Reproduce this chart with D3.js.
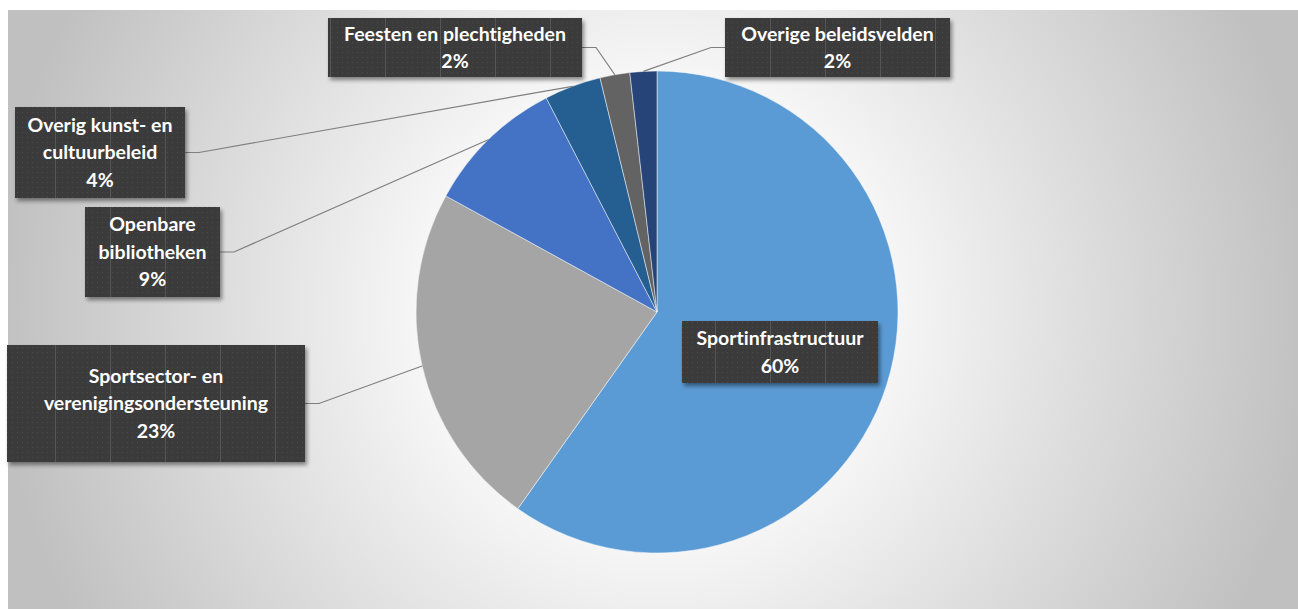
<!DOCTYPE html>
<html lang="nl">
<meta charset="utf-8">
<head>
  <title>Uitgaven per beleidsveld</title>
  <style>
    body { margin: 0; background: #fff; }
    .lbl { font-family: Lato, "Open Sans", sans-serif; font-weight: bold; font-size: 19.5px; fill: #fff;
           font-variant-ligatures: none; }
    .leader { fill: none; stroke: #7f7f7f; stroke-width: 1.2px; }
  </style>
</head>
<body>
<svg width="1298" height="609"></svg>
<script src="https://cdn.jsdelivr.net/npm/d3@7"></script>
<script>

// data
var categories = ["Sportinfrastructuur", "Sportsector- en verenigingsondersteuning", "Openbare bibliotheken",
                  "Overig kunst- en cultuurbeleid", "Feesten en plechtigheden", "Overige beleidsvelden"];
var shares = [59.8, 23.2, 9.4, 3.8, 2.0, 1.8];
// how each label is broken over lines
var labelLines = [
  ["Sportinfrastructuur"],
  ["Sportsector- en", "verenigingsondersteuning"],
  ["Openbare", "bibliotheken"],
  ["Overig kunst- en", "cultuurbeleid"],
  ["Feesten en plechtigheden"],
  ["Overige beleidsvelden"]
];

var colors = ["#5b9bd5", "#a5a5a5", "#4472c4", "#255e91", "#636363", "#264478"];

// label boxes: x, y, w, h, side the leader leaves from (null = inside slice)
var boxes = [
  {x: 682, y: 321, w: 196, h: 62, side: null},
  {x: 7, y: 345, w: 298, h: 117, side: "right"},
  {x: 85, y: 207, w: 135, h: 90, side: "right"},
  {x: 15, y: 107, w: 170, h: 91, side: "right"},
  {x: 328, y: 18, w: 254, h: 59, side: "right"},
  {x: 725, y: 18, w: 225, h: 59, side: "left"}
];

var svg = d3.select("svg"),
    cx = 657, cy = 312, radius = 241;

var defs = svg.append("defs");

var bg = defs.append("radialGradient")
    .attr("id", "bg")
    .attr("gradientUnits", "userSpaceOnUse")
    .attr("cx", 655).attr("cy", 310).attr("r", 660);
bg.append("stop").attr("offset", 0).attr("stop-color", "#ffffff");
bg.append("stop").attr("offset", 0.3).attr("stop-color", "#fbfbfb");
bg.append("stop").attr("offset", 1).attr("stop-color", "#c0c0c0");

// dotted dark fill of the label boxes
var pat = defs.append("pattern")
    .attr("id", "dots")
    .attr("patternUnits", "userSpaceOnUse")
    .attr("width", 55).attr("height", 55);
pat.append("rect").attr("width", 55).attr("height", 55).attr("fill", "#3a3a3a");
d3.range(0, 55, 5).forEach(function(px) {
  d3.range(0, 55, 5).forEach(function(py) {
    pat.append("rect").attr("x", px + 2).attr("y", py + 2).attr("width", 1).attr("height", 1).attr("fill", "#4c4c4c");
  });
});
pat.append("rect").attr("x", 0).attr("y", 0).attr("width", 1).attr("height", 55).attr("fill", "#575757");

var shadow = defs.append("filter").attr("id", "shadow")
    .attr("x", "-10%").attr("y", "-10%").attr("width", "130%").attr("height", "140%");
shadow.append("feDropShadow")
    .attr("dx", 2).attr("dy", 3).attr("stdDeviation", 2)
    .attr("flood-color", "#000").attr("flood-opacity", 0.45);

svg.append("rect")
    .attr("x", 8).attr("y", 10)
    .attr("width", 1290).attr("height", 599)
    .attr("fill", "url(#bg)");

var table = categories.map(function(c, i) {
  return {name: c, value: shares[i], lines: labelLines[i], color: colors[i], box: boxes[i]};
});

var pie = d3.pie().sort(null).value(function(d) { return d.value; });
var arc = d3.arc().innerRadius(0).outerRadius(radius);
var arcs = pie(table);

var g = svg.append("g").attr("transform", "translate(" + cx + "," + cy + ")");

g.selectAll(".slice")
  .data(arcs)
  .enter().append("path")
    .attr("class", "slice")
    .attr("d", arc)
    .attr("fill", function(d) { return d.data.color; })
    .attr("stroke", "#ffffff")
    .attr("stroke-opacity", 0.6)
    .attr("stroke-width", 0.8);

// leader lines from box edge to slice rim
svg.selectAll(".leader")
  .data(arcs.filter(function(d) { return d.data.box.side; }))
  .enter().append("path")
    .attr("class", "leader")
    .attr("d", function(d) {
      var b = d.data.box,
          mid = (d.startAngle + d.endAngle) / 2,
          ex = cx + Math.sin(mid) * radius,
          ey = cy - Math.cos(mid) * radius,
          sx = b.side == "right" ? b.x + b.w : b.x,
          sy = b.y + b.h / 2,
          kx = b.side == "right" ? sx + 14 : sx - 14;
      return "M" + sx + "," + sy + "L" + kx + "," + sy + "L" + ex + "," + ey;
    });

var label = svg.selectAll(".label")
  .data(arcs)
  .enter().append("g")
    .attr("class", "label");

label.append("rect")
    .attr("x", function(d) { return d.data.box.x; })
    .attr("y", function(d) { return d.data.box.y; })
    .attr("width", function(d) { return d.data.box.w; })
    .attr("height", function(d) { return d.data.box.h; })
    .attr("fill", "url(#dots)")
    .attr("filter", "url(#shadow)");

var lineH = 27.5;
label.each(function(d) {
  var b = d.data.box,
      lines = d.data.lines.concat([Math.round(d.data.value) + "%"]),
      top = b.y + b.h / 2 - (lines.length - 1) * lineH / 2;
  var t = d3.select(this).append("text")
      .attr("class", "lbl")
      .attr("text-anchor", "middle");
  lines.forEach(function(s, i) {
    t.append("tspan")
      .attr("x", b.x + b.w / 2)
      .attr("y", top + i * lineH)
      .attr("dy", "0.35em")
      .text(s);
  });
});

</script>
</body>
</html>
